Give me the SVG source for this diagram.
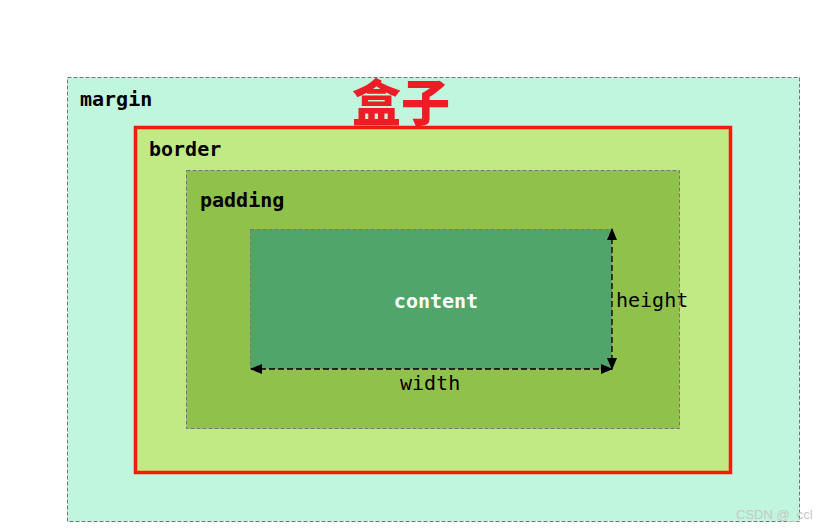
<svg xmlns="http://www.w3.org/2000/svg" width="824" height="530" viewBox="0 0 824 530">
<defs>
<style>
.lbl{font-family:"DejaVu Sans Mono","Liberation Mono",monospace;font-size:20px;fill:#000}
.b{font-weight:bold}
.dash{stroke:#777;stroke-width:1;stroke-dasharray:4 2}
</style>
<marker id="ah" markerWidth="12" markerHeight="10" refX="11" refY="5" orient="auto-start-reverse" markerUnits="userSpaceOnUse">
<path d="M0,0 L12,5 L0,10 Z" fill="#000"/>
</marker>
</defs>
<rect width="824" height="530" fill="#fff"/>
<g id="margin">
<rect x="67.5" y="77.5" width="732" height="444" fill="#c0f5de" class="dash"/>
<text x="80" y="106" class="lbl b">margin</text>
</g>
<g id="title">
<text x="401" y="121" text-anchor="middle" font-family="'Noto Sans CJK SC',sans-serif" font-weight="900" font-size="49" fill="#ee1c25">盒子</text>
</g>
<g id="border">
<rect x="135.5" y="127.5" width="595" height="345" fill="#c2ea84" stroke="#f51a0a" stroke-width="3.5"/>
<text x="149" y="156" class="lbl b">border</text>
</g>
<g id="padding">
<rect x="186.5" y="170.5" width="493" height="258" fill="#8fc14b" class="dash"/>
<text x="200" y="207" class="lbl b">padding</text>
</g>
<g id="content">
<rect x="250.5" y="229.5" width="361" height="139" fill="#50a66a" class="dash" stroke="#6a8"/>
<text x="436" y="308" text-anchor="middle" class="lbl b" style="fill:#fff">content</text>
</g>
<g id="connectors">
<line x1="251" y1="369" x2="612" y2="369" stroke="#000" stroke-width="1.3" stroke-dasharray="6 3" marker-start="url(#ah)" marker-end="url(#ah)"/>
<line x1="612" y1="229" x2="612" y2="369" stroke="#000" stroke-width="1.3" stroke-dasharray="6 3" marker-start="url(#ah)" marker-end="url(#ah)"/>
</g>
<g id="labels">
<text x="616" y="307" class="lbl">height</text>
<text x="400" y="390" class="lbl">width</text>
</g>
<text x="736" y="519" font-family="'Liberation Sans',sans-serif" font-size="13" fill="#c8c8c8">CSDN @_ccl</text>
</svg>
